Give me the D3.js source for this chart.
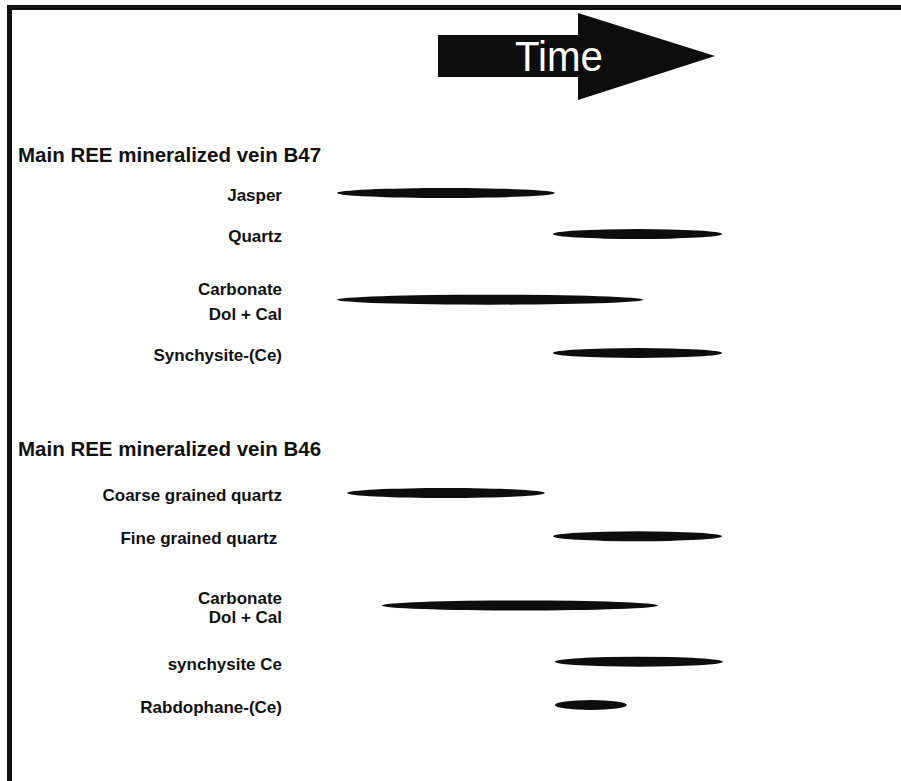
<!DOCTYPE html>
<html>
<head>
<meta charset="utf-8">
<script src="https://cdn.jsdelivr.net/npm/d3@7"></script>
<style>
  body { margin: 0; background: #fff; }
  svg { display: block; }
  text { font-family: "Liberation Sans", Arial, sans-serif; fill: #111; }
</style>
</head>
<body>
<svg id="chart" width="901" height="781"></svg>
<script>
// Paragenetic sequence values (time axis 0-100, arbitrary units)
const headings = ["Main REE mineralized vein B47", "Main REE mineralized vein B46"];

const b47Minerals = [["Jasper"], ["Quartz"], ["Carbonate", "Dol + Cal"], ["Synchysite-(Ce)"]];
const b47Start = [0, 55.8, 0, 55.8];
const b47End = [56.3, 99.5, 79.1, 99.5];

const b46Minerals = [["Coarse grained quartz"], ["Fine grained quartz "], ["Carbonate", "Dol + Cal"], ["synchysite Ce"], ["Rabdophane-(Ce)"]];
const b46Start = [2.6, 55.8, 11.6, 56.3, 56.3];
const b46End = [53.7, 99.5, 82.9, 99.7, 74.9];

const svg = d3.select("#chart");

svg.append("rect").attr("width", 901).attr("height", 781).attr("fill", "#fff");

// frame (only top and left edges show)
svg.append("path")
  .attr("d", "M9.5,781V7.5H901")
  .attr("fill", "none")
  .attr("stroke", "#111")
  .attr("stroke-width", 5);

// time axis
const x = d3.scaleLinear().domain([0, 100]).range([337, 724]);

// Time arrow
svg.append("path")
  .attr("d", "M438,35H578V13L715,56L578,100V77H438Z")
  .attr("fill", "#0d0d0d");
svg.append("text")
  .attr("x", 515)
  .attr("y", 71)
  .attr("textLength", 88)
  .attr("lengthAdjust", "spacingAndGlyphs")
  .style("font-size", "43px")
  .style("fill", "#fff")
  .text("Time");

const labelSize = 17;
const labelRight = 282;

const groups = [
  { title: headings[0], minerals: b47Minerals, start: b47Start, end: b47End,
    titleY: 162, rowRange: [193, 353], lineGap: 25 },
  { title: headings[1], minerals: b46Minerals, start: b46Start, end: b46End,
    titleY: 456, rowRange: [493, 705], lineGap: 19 }
];

groups.forEach((grp) => {
  const rows = grp.minerals.map((lines, i) => ({
    lines, start: grp.start[i], end: grp.end[i]
  }));

  // slot positions: rows with two-line labels get more room
  let slot = 0;
  rows.forEach((r, i) => {
    if (i > 0) {
      if (r.lines.length > 1) slot += 1.6;
      else if (rows[i - 1].lines.length > 1) slot += 1.3;
      else slot += 1;
    }
    r.slot = slot;
  });

  const y = d3.scaleLinear().domain([0, slot]).range(grp.rowRange);

  const g = svg.append("g");

  g.append("text")
    .attr("x", 18)
    .attr("y", grp.titleY)
    .style("font-size", "20.5px")
    .style("font-weight", "bold")
    .text(grp.title);

  // labels
  const lbl = g.selectAll(".lbl")
    .data(rows)
    .join("text")
    .attr("class", "lbl")
    .attr("x", labelRight)
    .attr("y", (d) => y(d.slot) + 2)
    .attr("text-anchor", "end")
    .style("font-size", labelSize + "px")
    .style("font-weight", "bold")
    .style("white-space", "pre");

  lbl.selectAll("tspan")
    .data((d) => d.lines.map((t, k) => ({ t, k, n: d.lines.length })))
    .join("tspan")
    .attr("x", labelRight)
    .attr("dy", (d) => d.k === 0
      ? (0.35 * labelSize - (d.n - 1) * grp.lineGap / 2) + "px"
      : grp.lineGap + "px")
    .text((d) => d.t);

  // lens-shaped duration bars
  g.selectAll(".bar")
    .data(rows)
    .join("ellipse")
    .attr("class", "bar")
    .attr("cx", (d) => (x(d.start) + x(d.end)) / 2)
    .attr("cy", (d) => y(d.slot))
    .attr("rx", (d) => (x(d.end) - x(d.start)) / 2)
    .attr("ry", 5)
    .attr("fill", "#0d0d0d");
});
</script>
</body>
</html>
